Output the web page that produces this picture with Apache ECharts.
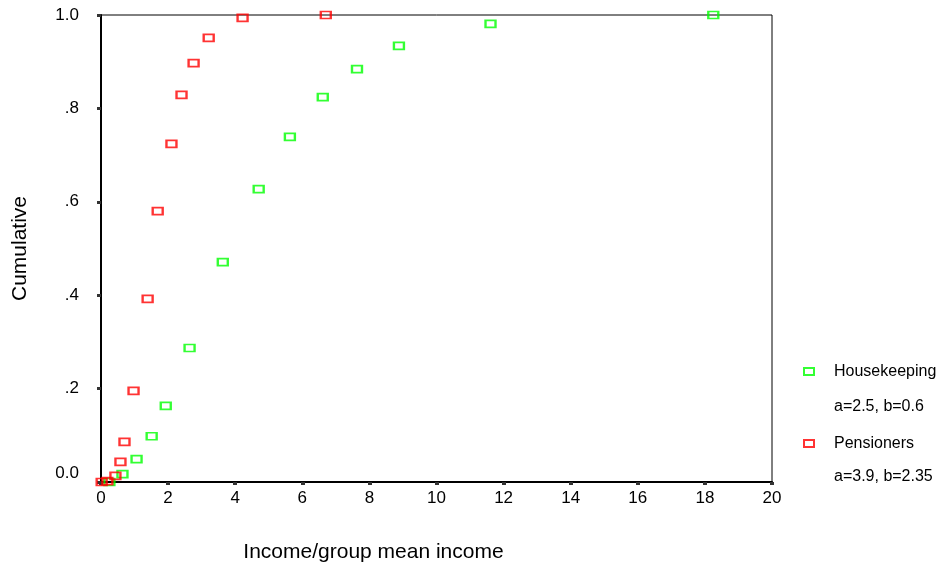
<!DOCTYPE html>
<html>
<head>
<meta charset="utf-8">
<script src="https://cdn.jsdelivr.net/npm/echarts@6/dist/echarts.min.js"></script>
<style>html,body{margin:0;padding:0;background:#fff}#c{width:942px;height:568px}</style>
</head>
<body>
<div id="c"></div>
<script>
var houseX = [0.25, 0.64, 1.06, 1.51, 1.93, 2.64, 3.63, 4.70, 5.63, 6.61, 7.63, 8.88, 11.61, 18.25];
var houseY = [0.0, 0.017, 0.049, 0.098, 0.163, 0.287, 0.471, 0.627, 0.739, 0.824, 0.884, 0.934, 0.981, 1.0];
var pensX = [0.02, 0.19, 0.43, 0.58, 0.70, 0.97, 1.39, 1.69, 2.10, 2.40, 2.76, 3.21, 4.22, 6.70];
var pensY = [0.0, 0.002, 0.013, 0.043, 0.086, 0.195, 0.392, 0.580, 0.724, 0.829, 0.897, 0.951, 0.994, 1.0];
var yTickLabels = ['0.0', '.2', '.4', '.6', '.8', '1.0'];
var xTickLabels = ['0', '2', '4', '6', '8', '10', '12', '14', '16', '18', '20'];
var seriesNames = ['Housekeeping', 'Pensioners'];
var seriesParams = ['a=2.5, b=0.6', 'a=3.9, b=2.35'];

function zip(xs, ys) { return xs.map(function (x, i) { return [x, ys[i]]; }); }

var FONT = '"Liberation Sans", Arial, sans-serif';
var chart = echarts.init(document.getElementById('c'));
chart.setOption({
  animation: false,
  backgroundColor: '#fff',
  grid: { left: 101, right: 170, top: 15, bottom: 85, show: true, borderColor: '#000', borderWidth: 1, backgroundColor: 'transparent' },
  xAxis: {
    type: 'value', min: 0, max: 20, interval: 2,
    name: 'Income/group mean income', nameLocation: 'middle', nameGap: 60,
    nameTextStyle: { fontFamily: FONT, fontSize: 21, color: '#000', padding: [0, 126, 0, 0] },
    axisLine: { show: true, lineStyle: { color: '#000', width: 2 } },
    axisTick: { show: true, length: 3, lineStyle: { color: '#333', width: 4 } },
    axisLabel: { margin: 8, fontFamily: FONT, fontSize: 17, color: '#000',
      formatter: function (v) { return xTickLabels[Math.round(v / 2)]; } },
    splitLine: { show: false }
  },
  yAxis: {
    type: 'value', min: 0, max: 1, interval: 0.2,
    name: 'Cumulative', nameLocation: 'middle', nameGap: 70, nameRotate: 90,
    nameTextStyle: { fontFamily: FONT, fontSize: 21, color: '#000' },
    axisLine: { show: true, lineStyle: { color: '#000', width: 2 } },
    axisTick: { show: true, length: 4, lineStyle: { color: '#333', width: 3 } },
    axisLabel: { margin: 22, fontFamily: FONT, fontSize: 17, color: '#000',
      formatter: function (v) {
        var i = Math.round(v / 0.2);
        return i === 0 ? '{z|' + yTickLabels[0] + '}' : yTickLabels[i];
      },
      rich: { z: { fontFamily: FONT, fontSize: 17, color: '#000', padding: [0, 0, 18, 0] } }
    },
    splitLine: { show: false }
  },
  legend: {
    orient: 'vertical', left: 803, top: 360, padding: 0, itemWidth: 10, itemHeight: 7, itemGap: 49,
    data: seriesNames,
    textStyle: { fontFamily: FONT, fontSize: 16, color: '#000', lineHeight: 20, padding: [3, 0, 0, 15] }
  },
  graphic: [
    { type: 'text', left: 834, top: 399, style: { text: seriesParams[0], font: '16px ' + FONT, fill: '#000' } },
    { type: 'text', left: 834, top: 469, style: { text: seriesParams[1], font: '16px ' + FONT, fill: '#000' } }
  ],
  series: [
    { name: seriesNames[0], type: 'scatter', clip: false, symbol: 'rect', symbolSize: [10, 7],
      itemStyle: { color: 'transparent', borderColor: '#00ff00', borderWidth: 2 },
      data: zip(houseX, houseY) },
    { name: seriesNames[1], type: 'scatter', clip: false, symbol: 'rect', symbolSize: [10, 7],
      itemStyle: { color: 'transparent', borderColor: '#ff0000', borderWidth: 2 },
      data: zip(pensX, pensY) }
  ]
});
</script>
</body>
</html>
